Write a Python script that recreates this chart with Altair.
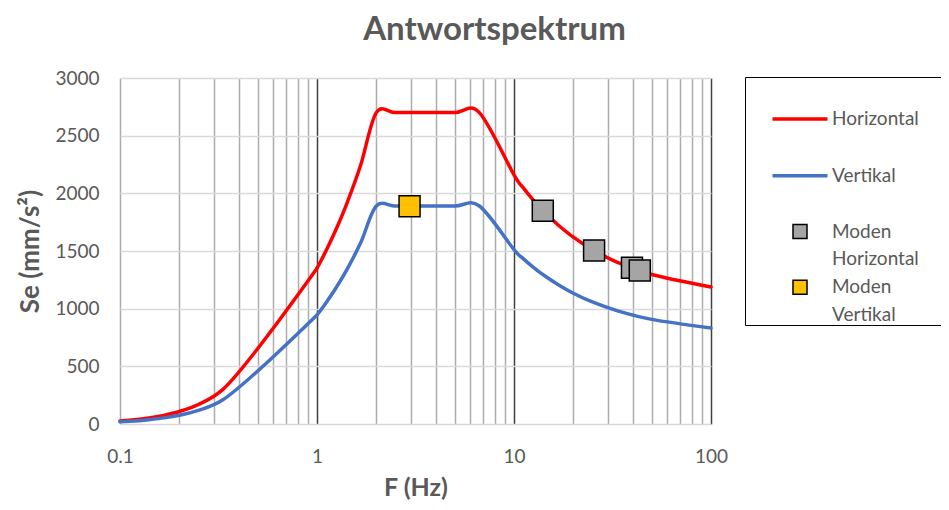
import altair as alt
import pandas as pd

# ---- data ----
freq = [0.1, 0.111, 0.125, 0.143, 0.167, 0.2, 0.25, 0.333,
        1.0, 1.11, 1.25, 1.43, 1.67, 2.0, 2.5, 3.33, 5.0, 6.67,
        10.0, 11.1, 12.5, 14.3, 16.7, 20.0, 25.0, 33.3, 50.0, 100.0]
horizontal = [27, 33, 42, 55, 75, 108, 169, 300,
              1350, 1500, 1688, 1929, 2250, 2700, 2700, 2700, 2700, 2700,
              2160, 2052, 1944, 1836, 1728, 1620, 1512, 1404, 1296, 1188]
vertical = [19, 23, 29, 39, 53, 76, 118, 210,
            945, 1050, 1181, 1350, 1575, 1890, 1890, 1890, 1890, 1890,
            1512, 1436, 1361, 1285, 1210, 1134, 1058, 983, 907, 832]

mode_h_freq = [14.0, 25.5, 39.7, 43.5]
mode_h_val = [1850, 1504, 1354, 1331]
mode_v_freq = [2.95]
mode_v_val = [1887]

x_grid_values = [0.1, 0.2, 0.3, 0.4, 0.5, 0.6, 0.7, 0.8, 0.9,
                 1, 2, 3, 4, 5, 6, 7, 8, 9,
                 10, 20, 30, 40, 50, 60, 70, 80, 90, 100]
y_tick_values = [0, 500, 1000, 1500, 2000, 2500, 3000]

# ---- tables ----
lines_df = pd.DataFrame({
    "f": freq + freq,
    "se": horizontal + vertical,
    "series": ["Horizontal"] * len(freq) + ["Vertikal"] * len(freq),
})
modes_df = pd.DataFrame({
    "f": mode_h_freq + mode_v_freq,
    "se": mode_h_val + mode_v_val,
    "series": ["Moden Horizontal"] * len(mode_h_freq) + ["Moden Vertikal"] * len(mode_v_freq),
})

# legend rows (blank helper rows give the Excel-like spacing / 2-line labels)
domain = ["_top", "Horizontal", "_gap1", "Vertikal", "_gap2",
          "Moden Horizontal", "_mh", "Moden Vertikal", "_mv"]
LINE = "M-2.2,0H2.2"
SQUARE = "M-0.56,-0.56H0.56V0.56H-0.56Z"
WIDE = "M0,0H30"  # invisible helper: widens the legend frame past the right edge
stroke_range = ["transparent", "#FF0000", "transparent", "#4472C4", "transparent",
                "#000000", "transparent", "#000000", "transparent"]
fill_range = ["transparent", "transparent", "transparent", "transparent", "transparent",
              "#A5A5A5", "transparent", "#FFC000", "transparent"]
shape_range = [WIDE, LINE, LINE, LINE, LINE, SQUARE, LINE, SQUARE, LINE]
width_range = [0, 3.5, 0, 3.5, 0, 1.5, 0, 1.5, 0]

TXT = "#595959"
FONT = "Lato"

label_expr = (
    "datum.label == 'Horizontal' ? 'Horizontal' : "
    "datum.label == 'Vertikal' ? 'Vertikal' : "
    "datum.label == 'Moden Horizontal' ? 'Moden' : "
    "datum.label == '_mh' ? 'Horizontal' : "
    "datum.label == 'Moden Vertikal' ? 'Moden' : "
    "datum.label == '_mv' ? 'Vertikal' : ''"
)

legend = alt.Legend(
    title=None, orient="none", legendX=625, legendY=-1, columns=1,
    symbolSize=625, padding=0, symbolOffset=40.5, labelOffset=17.5,
    rowPadding=4.4, strokeColor="black", labelFont=FONT, labelFontSize=19,
    labelColor=TXT, labelExpr=label_expr, labelLimit=400,
)

stroke_enc = alt.Stroke("series:N", scale=alt.Scale(domain=domain, range=stroke_range), legend=legend)
width_enc = alt.StrokeWidth("series:N", scale=alt.Scale(type="ordinal", domain=domain, range=width_range), legend=legend)
fill_enc = alt.Fill("series:N", scale=alt.Scale(domain=domain, range=fill_range), legend=legend)
shape_enc = alt.Shape("series:N", scale=alt.Scale(domain=domain, range=shape_range), legend=legend)

x_enc = alt.X(
    "f:Q",
    scale=alt.Scale(type="log", domain=[0.1, 100], nice=False),
    axis=alt.Axis(
        values=x_grid_values, format="~g", labelFlush=False,
        labelExpr="datum.value == 0.1 || datum.value == 1 || datum.value == 10 || datum.value == 100 ? datum.label : ''",
        grid=True, gridWidth=1.5,
        gridColor={"condition": {"test": "datum.value == 1 || datum.value == 10 || datum.value == 100",
                                 "value": "#404040"},
                   "value": "#ADADAD"},
        domain=False, ticks=False, labelPadding=23,
        labelFont=FONT, labelFontSize=19, labelColor=TXT,
        title="F (Hz)", titleFont=FONT, titleFontSize=25, titleFontWeight="bold",
        titleColor=TXT, titlePadding=9,
    ),
)
y_enc = alt.Y(
    "se:Q",
    scale=alt.Scale(domain=[0, 3000], nice=False),
    axis=alt.Axis(
        values=y_tick_values, format="d", grid=True, gridColor="#D9D9D9", gridWidth=1.5,
        domain=False, ticks=False, labelPadding=21,
        labelFont=FONT, labelFontSize=19, labelColor=TXT,
        title="Se (mm/s²)", titleFont=FONT, titleFontSize=26, titleFontWeight="bold",
        titleColor=TXT, titlePadding=11,
    ),
)

# smoothed like Excel: rising branch (sparse points) with catmull-rom,
# plateau / corners with cardinal to keep the small overshoot bumps
lines_low = alt.Chart(lines_df).transform_filter("datum.f <= 1").mark_line(
    interpolate="catmull-rom", strokeCap="round"
).encode(x=x_enc, y=y_enc, stroke=stroke_enc, strokeWidth=width_enc)
lines_high = alt.Chart(lines_df).transform_filter("datum.f >= 1").mark_line(
    interpolate="cardinal", strokeCap="round"
).encode(x=x_enc, y=y_enc, stroke=stroke_enc, strokeWidth=width_enc)
points = alt.Chart(modes_df).mark_point(filled=True, opacity=1, size=1406).encode(
    x=x_enc, y=y_enc, fill=fill_enc, stroke=stroke_enc, strokeWidth=width_enc, shape=shape_enc,
)

chart = alt.layer(lines_low, lines_high, points).properties(
    width=591, height=346,
    title=alt.TitleParams("Antwortspektrum", font=FONT, fontSize=33, fontWeight="bold",
                          color=TXT, anchor="middle", dx=79, offset=22),
    autosize=alt.AutoSizeParams(type="none"),
    padding={"left": 112, "top": 70, "right": 230, "bottom": 78},
).configure_view(stroke=None)

chart.save("out.html", embed_options={"renderer": "svg", "actions": False})
